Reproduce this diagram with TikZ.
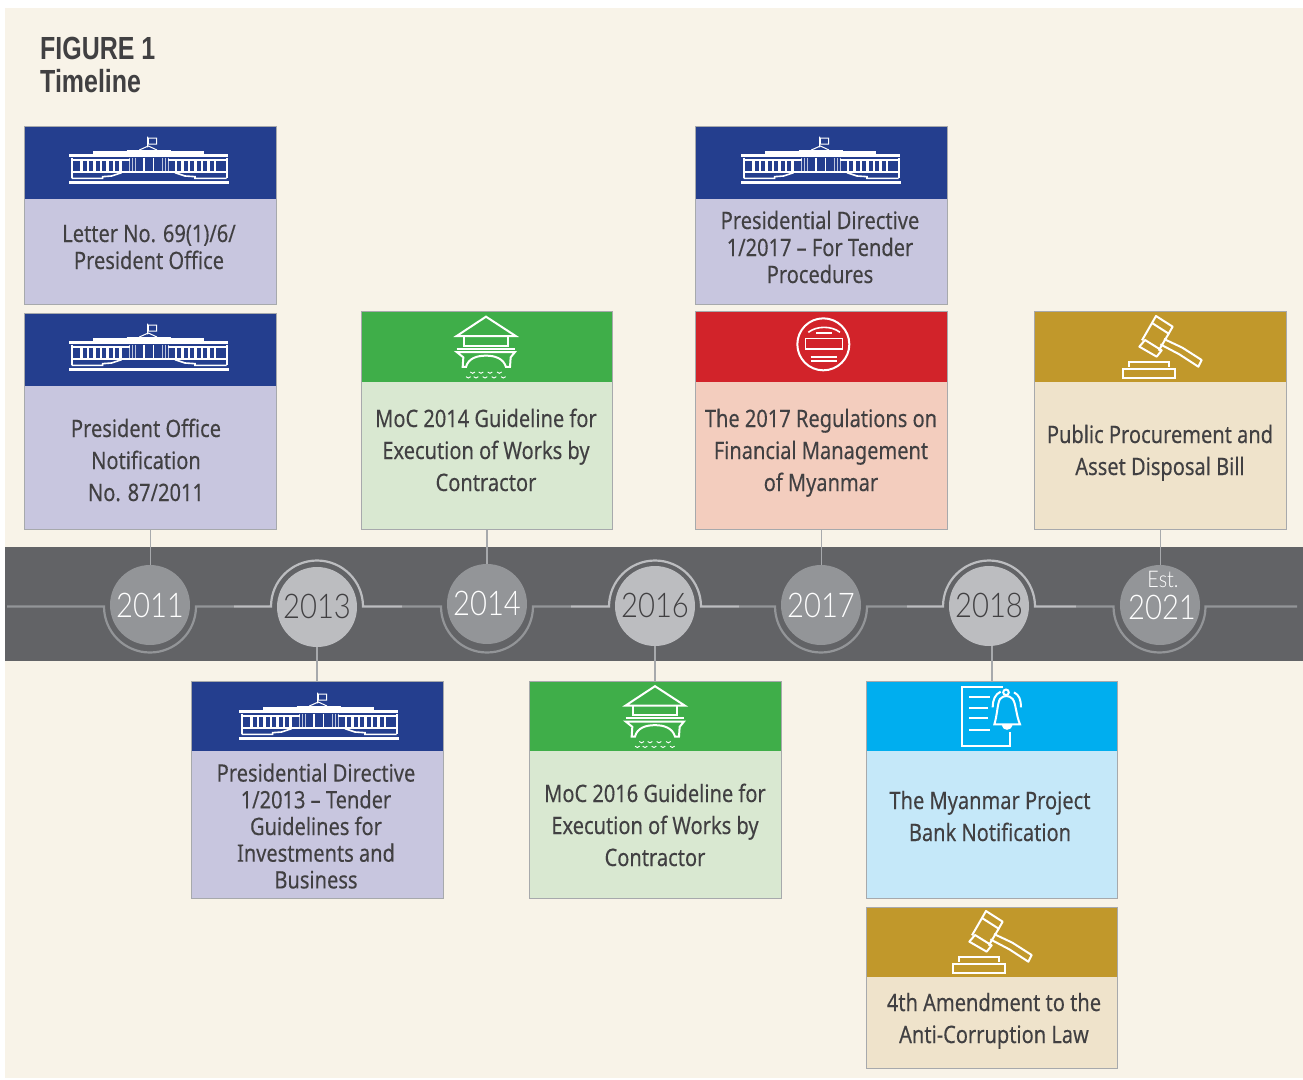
\documentclass[tikz,border=0pt]{standalone}
\usepackage{fontspec}
\setmainfont[FakeStretch=0.835,FakeBold=0.2]{Noto Sans}
\newfontfamily\yearfont[FakeStretch=0.86]{Lato Light}
\newfontfamily\titlefont[FakeStretch=0.78,BoldFeatures={FakeStretch=0.78}]{Liberation Sans}
\definecolor{pagebg}{HTML}{F8F3E8}
\definecolor{barcol}{HTML}{626366}
\definecolor{oddcol}{HTML}{939598}
\definecolor{evencol}{HTML}{BCBDC0}
\definecolor{stemcol}{HTML}{A7A9AC}
\definecolor{inkcol}{HTML}{414042}
\definecolor{navy}{HTML}{243E8E}
\definecolor{lav}{HTML}{C8C6DF}
\definecolor{grn}{HTML}{3FAE49}
\definecolor{grnl}{HTML}{D9E8D1}
\definecolor{rd}{HTML}{D2232A}
\definecolor{rdl}{HTML}{F3CDBE}
\definecolor{gld}{HTML}{C1982B}
\definecolor{gldl}{HTML}{EFE3CB}
\definecolor{sky}{HTML}{00AEEF}
\definecolor{skyl}{HTML}{C5E8F9}
\tikzset{
 cardbody/.style={rectangle,draw=stemcol,line width=1pt,inner sep=0pt,anchor=north west},
 cardhead/.style={rectangle,inner sep=0pt,anchor=north west},
 cardtext/.style={text=inkcol,align=center,inner sep=0pt},
 stem/.style={draw=stemcol,line width=1.2pt},
 ringodd/.style={draw=oddcol,line width=2.2pt},
 ringeven/.style={draw=evencol,line width=2.2pt},
 yearodd/.style={circle,fill=oddcol,text=white,minimum size=80pt,inner sep=0pt,font=\yearfont\fontsize{34}{34}\selectfont},
 yeareven/.style={circle,fill=evencol,text=inkcol,minimum size=80pt,inner sep=0pt,font=\yearfont\fontsize{34}{34}\selectfont},
 icon/.style={draw=white,line width=2pt},
 zoomed/.style={x=.3333pt,y=-.3333pt},
 capitol/.pic={\begin{scope}[zoomed]
  \draw[icon,line width=1pt] (383,50)--(383,82) (385,54) rectangle (410,72) (358,90)--(385,78)--(411,90);
  \draw[icon,line width=2.4pt] (220,97)--(552,97);
  \draw[icon,line width=2pt] (320,93)--(452,93);
  \draw[icon,line width=2.6pt] (148,107)--(624,107) (148,188)--(626,188);
  \draw[icon,line width=1.8pt] (155,113)--(155,175) (620,113)--(620,175) (155,119)--(330,119) (443,119)--(620,119);
  \draw[icon,line width=2.2pt] (155,157)--(620,157);
  \foreach \k in {0,...,6}{\draw[icon,line width=2.4pt] ({185+19.5*\k},119)--({185+19.5*\k},157) ({585-19.5*\k},119)--({585-19.5*\k},157);}
  \draw[icon,line width=.9pt,opacity=.7] (327,113)--(327,157) (336,113)--(336,157) (345,113)--(345,157) (428,113)--(428,157) (437,113)--(437,157) (446,113)--(446,157);
  \draw[icon,line width=1.4pt] (372,113)--(372,157) (400,113)--(400,157);
  \draw[icon,line width=1.6pt] (155,175)--(248,175)--(248,170)--(275,168)--(305,158) (620,175)--(525,175)--(525,170)--(495,168)--(465,158);
 \end{scope}},
 bridge/.pic={\begin{scope}[zoomed]
  \draw[icon,line join=miter] (110,93)--(198,35)--(287,93)--cycle;
  \draw[icon] (133,93)--(133,122)--(263,122)--(263,93);
  \draw[icon] (110,131)--(285,131);
  \draw[icon] (110,141)--(285,141)--(272,157)--(270,186)--(258,186) .. controls (250,160) and (225,152) .. (198,152) .. controls (170,152) and (145,160) .. (138,186)--(128,186)--(130,157)--cycle;
  \foreach \vx in {158,183,210,238}{\draw[icon,line width=.9pt] (\vx-7,201)--(\vx,205)--(\vx+7,201);}
  \foreach \vx in {145,168,195,222,250}{\draw[icon,line width=.9pt] (\vx-7,215)--(\vx,219)--(\vx+7,215);}
 \end{scope}},
 seal/.pic={\begin{scope}[zoomed]
  \draw[icon,line width=2pt] (160,118) circle[radius=26pt];
  \draw[icon,line width=1.6pt] (115,82) .. controls (140,62) and (185,62) .. (210,82);
  \draw[icon,line width=1.6pt] (138,84)--(186,84);
  \draw[icon,line width=1.6pt] (107,100) rectangle (218,132);
  \draw[icon,line width=1.6pt] (122,156)--(200,156) (122,168)--(200,168);
 \end{scope}},
 gavel/.pic={\begin{scope}[zoomed]
  \draw[icon,line join=round] (168,33)--(218,65)--(206,86)--(156,54)--cycle;
  \draw[icon,line join=round] (156,54)--(126,106) (206,86)--(176,137);
  \draw[icon,line join=round] (135,105)--(185,136)--(170,155)--(118,125)--cycle;
  \draw[icon,line join=round] (192,102)--(247,128)--(305,165)--(295,185)--(238,148)--(181,118);
  \draw[icon] (87,185)--(87,170)--(207,170)--(207,185);
  \draw[icon] (70,192) rectangle (225,220);
 \end{scope}},
 notice/.pic={\begin{scope}[zoomed]
  \draw[icon] (188,35)--(67,35)--(67,213)--(210,213)--(210,170);
  \draw[icon] (88,67)--(150,67) (88,98)--(145,98) (88,130)--(145,130) (88,166)--(150,166);
  \draw[icon] (163,148) .. controls (172,120) and (172,85) .. (180,72) .. controls (190,60) and (208,60) .. (218,72) .. controls (228,85) and (228,120) .. (240,148)--cycle;
  \draw[icon] (198,52) circle[radius=2.8pt];
  \draw[icon,fill=white] (188,150) .. controls (192,165) and (210,165) .. (215,150);
  \draw[icon] (158,97) .. controls (158,75) and (165,58) .. (182,50) (222,52) .. controls (238,60) and (243,75) .. (243,97);
 \end{scope}}
}
% name, x1, y1, x2, y2, split y, head colour, body colour
\newcommand\tlcard[8]{%
 \pgfmathsetmacro\cw{#4-#2}\pgfmathsetmacro\ch{#5-#3}\pgfmathsetmacro\hh{#6-#3-.5}\pgfmathsetmacro\hw{\cw-1}%
 \node[cardbody,fill=#8,minimum width=\cw pt,minimum height=\ch pt] (#1) at (#2,#3) {};
 \node[cardhead,fill=#7,minimum width=\hw pt,minimum height=\hh pt] (#1h) at (#2+.5,#3+.5) {};
}
% name, x, y, line spacing, text
\newcommand\tltext[5]{\node[cardtext,font=\fontsize{24}{#4}\selectfont] (#1) at (#2,#3) {\rule{0pt}{22pt}#5\rule[-6pt]{0pt}{6pt}};}
\begin{document}
\begin{tikzpicture}[x=1pt,y=-1pt]
\useasboundingbox (0,0) rectangle (1303,1079);
\fill[white] (0,0) rectangle (1303,1079);
\fill[pagebg] (5,8) rectangle (1303,1078);
\node[anchor=north west,inner sep=0pt,text=inkcol,align=left,font=\titlefont\fontsize{32}{33}\selectfont\bfseries] (title) at (40,37) {FIGURE 1\\Timeline};
% band
\fill[barcol] (5,547) rectangle (1303,661);
% year circles
\node[yearodd] (c2011) at (150,605) {2011};
\node[yeareven] (c2013) at (317,607) {\raisebox{2pt}{2013}};
\node[yearodd] (c2014) at (487,604) {\raisebox{1pt}{2014}};
\node[yeareven] (c2016) at (655,606) {\raisebox{1pt}{2016}};
\node[yearodd] (c2017) at (821,605) {2017};
\node[yeareven] (c2018) at (989,606) {\raisebox{1pt}{2018}};
\node[yearodd,align=center] (c2021) at (1160,605) {};
\node[text=white,inner sep=0pt,font=\yearfont\fontsize{23}{23}\selectfont] (est) at (1163,579) {Est.};
\node[text=white,inner sep=0pt,font=\yearfont\fontsize{34}{34}\selectfont] (y2021) at (1162,607) {2021};
% timeline rule
\begin{scope}[line cap=butt]
\draw[ringodd] (7,606.5)--(104,606.5) arc[start angle=180,end angle=360,radius=46pt]--(234,606.5);
\draw[ringeven] (234,606.5)--(271,606.5) arc[start angle=180,end angle=0,radius=46pt]--(402,606.5);
\draw[ringodd] (402,606.5)--(441,606.5) arc[start angle=180,end angle=360,radius=46pt]--(571,606.5);
\draw[ringeven] (571,606.5)--(609,606.5) arc[start angle=180,end angle=0,radius=46pt]--(739,606.5);
\draw[ringodd] (739,606.5)--(775,606.5) arc[start angle=180,end angle=360,radius=46pt]--(907,606.5);
\draw[ringeven] (907,606.5)--(943,606.5) arc[start angle=180,end angle=0,radius=46pt]--(1076,606.5);
\draw[ringodd] (1076,606.5)--(1113.5,606.5) arc[start angle=180,end angle=360,radius=46pt]--(1297,606.5);
\end{scope}
% cards
\tlcard{A}{24}{126}{276}{304}{199}{navy}{lav}
\tlcard{B}{24}{313}{276}{529}{386}{navy}{lav}
\tlcard{C}{361}{311}{612}{529}{382}{grn}{grnl}
\tlcard{D}{695}{126}{947}{304}{199}{navy}{lav}
\tlcard{E}{695}{311}{947}{529}{382}{rd}{rdl}
\tlcard{F}{1034}{311}{1286}{529}{382}{gld}{gldl}
\tlcard{G}{191}{681}{443}{898}{751}{navy}{lav}
\tlcard{H}{529}{681}{781}{898}{751}{grn}{grnl}
\tlcard{I}{866}{681}{1117}{898}{751}{sky}{skyl}
\tlcard{J}{866}{907}{1117}{1068}{977}{gld}{gldl}
% connectors
\draw[stem] (B.south) -- (B.south |- c2011.north);
\draw[stem] (C.south) -- (C.south |- c2014.north);
\draw[stem] (E.south) -- (E.south |- c2017.north);
\draw[stem] (F.south) -- (F.south |- c2021.north);
\draw[stem] (c2013.south) -- (c2013.south |- G.north);
\draw[stem] (c2016.south) -- (c2016.south |- H.north);
\draw[stem] (c2018.south -| I.north) ++(0,0) -- (I.north);
% icons
\pic at (20,120) {capitol};
\pic at (20,307) {capitol};
\pic at (692,120) {capitol};
\pic at (190,676) {capitol};
\pic at (420,305) {bridge};
\pic at (589,674.5) {bridge};
\pic at (770,305) {seal};
\pic at (1100,305) {gavel};
\pic at (930,900) {gavel};
\pic at (940,675) {notice};
% texts
\tltext{At}{149}{247.5}{27}{Letter No. 69(1)/6/\\President Office}
\tltext{Bt}{146}{461}{32}{President Office\\Notification\\No. 87/2011}
\tltext{Ct}{486}{451}{32}{MoC 2014 Guideline for\\Execution of Works by\\Contractor}
\tltext{Dt}{820}{248}{27}{Presidential Directive\\1/2017 – For Tender\\Procedures}
\tltext{Et}{821}{451}{32}{The 2017 Regulations on\\Financial Management\\of Myanmar}
\tltext{Ft}{1160}{451}{32}{Public Procurement and\\Asset Disposal Bill}
\tltext{Gt}{316}{827}{26.7}{Presidential Directive\\1/2013 – Tender\\Guidelines for\\Investments and\\Business}
\tltext{Ht}{655}{826}{32}{MoC 2016 Guideline for\\Execution of Works by\\Contractor}
\tltext{It}{990}{817}{32}{The Myanmar Project\\Bank Notification}
\tltext{Jt}{994}{1019}{32}{4th Amendment to the\\Anti-Corruption Law}
\end{tikzpicture}
\end{document}
